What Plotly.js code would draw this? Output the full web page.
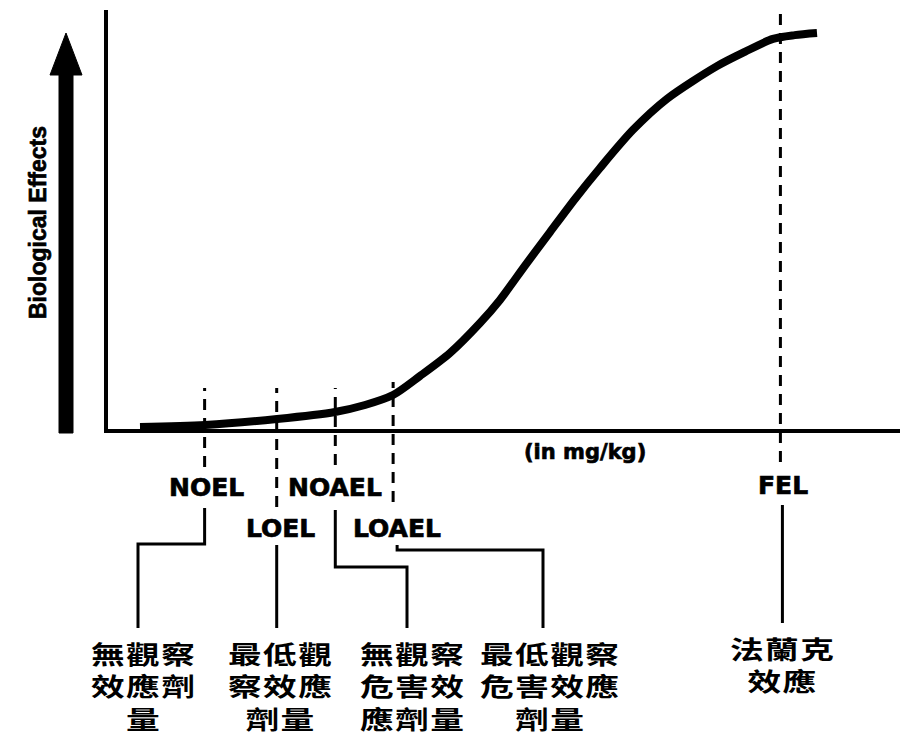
<!DOCTYPE html>
<html><head><meta charset="utf-8">
<script src="https://cdn.plot.ly/plotly-3.0.1.min.js"></script>
<style>
html,body{margin:0;padding:0;background:#fff;}
#chart{width:900px;height:735px;}
text.annotation-text[style*="CJK"]{transform-box:fill-box;transform-origin:center;transform:scaleX(1.35);letter-spacing:1px;}
text.annotation-text[style*="DejaVu"],text.annotation-text[style*="Liberation"]{stroke:#000;stroke-width:0.7px;}
</style></head><body><div id="chart"></div>
<script>
// ---- data ----
const doseCurve   = [4.04, 12.25, 21.34, 28.66, 32.45, 35.98, 39.39, 43.18, 46.97, 49.49, 52.65, 55.81, 58.96, 62.12, 66.29, 70.58, 76.89, 80.4, 83.96, 86.7, 89.52];
const effectCurve = [0.48, 0.95, 2.39, 4.06, 5.73, 8.11, 12.65, 18.14, 25.3, 30.8, 39.0, 47.0, 54.9, 62.3, 71.4, 78.8, 86.6, 90.0, 93.1, 94.0, 94.5];
const levelNames  = ['NOEL', 'LOEL', 'NOAEL', 'LOAEL', 'FEL'];
const levelDoses  = [12.2, 21.3, 28.7, 36.0, 84.9];
const levelZh = [
  ['無觀察', '效應劑', '量'],
  ['最低觀', '察效應', '劑量'],
  ['無觀察', '危害效', '應劑量'],
  ['最低觀察', '危害效應', '劑量'],
  ['法蘭克', '效應']
];
const yTitle = 'Biological Effects';
const xTitle = '(in mg/kg)';

// ---- layout geometry ----
const W = 900, H = 735, L = 108, T = 10, PB = 429;
const PW = W - L, PH = PB - T;
const xd = px => (px - L) / PW * 100;          // pixel -> x data
const dx = v => L + v / 100 * PW;               // x data -> pixel
const yp = py => (PB - py) / PH;                // pixel -> paper y
const xp = px => (px - L) / PW;                 // pixel -> paper x

const dashTop    = [388, 388, 388, 382, 13];
const dashBottom = [467, 507, 465, 502, 462];
const labelY     = [487, 528, 487, 528, 485];
const labelShift = [2, 4, 0, 4, 3];
const leadStartShift = [0, 0, 0, 4, 2];
const leadTop    = [508, 545, 510, 545, 505];
const leadElbow  = [544, null, 567, 550, null];
const leadEndX   = [138, null, 407, 543, null];
const leadBottom = [628, 628, 628, 628, 623];
const zhX = [143, 280, 412, 550, 782];
const zhY = [685, 685, 685, 685, 664];

const shapes = [];
const annotations = [];
const black = '#000';

levelDoses.forEach((d, i) => {
  shapes.push({type: 'line', xref: 'x', yref: 'paper', x0: d, x1: d,
    y0: yp(dashBottom[i]), y1: yp(dashTop[i]),
    line: {color: black, width: 3, dash: '11px,8px'}});
  const sx = xd(dx(d) + leadStartShift[i]);
  let path = `M${sx},${yp(leadTop[i])}`;
  if (leadElbow[i] !== null) {
    const ex = xd(leadEndX[i]);
    path += ` L${sx},${yp(leadElbow[i])} L${ex},${yp(leadElbow[i])} L${ex},${yp(leadBottom[i])}`;
  } else {
    path += ` L${sx},${yp(leadBottom[i])}`;
  }
  shapes.push({type: 'path', xref: 'x', yref: 'paper', path: path,
    line: {color: black, width: 3}});
  annotations.push({xref: 'x', yref: 'paper', x: d, y: yp(labelY[i]), xshift: labelShift[i],
    text: levelNames[i], showarrow: false, xanchor: 'center', yanchor: 'middle',
    font: {family: 'DejaVu Sans', size: 25, color: black, weight: 'bold'}});
  annotations.push({xref: 'paper', yref: 'paper', x: xp(zhX[i]), y: yp(zhY[i]),
    text: levelZh[i].join('<br>'), align: 'center', borderpad: 0,
    showarrow: false, xanchor: 'center', yanchor: 'middle',
    font: {family: 'Noto Sans CJK TC', size: 25, color: black, weight: 'bold'}});
});

// big arrow
const arrowPts = [[66, 33], [82, 75], [73, 75], [73, 433], [59, 433], [59, 75], [50, 75]];
shapes.push({type: 'path', xref: 'paper', yref: 'paper',
  path: 'M' + arrowPts.map(p => xp(p[0]) + ',' + yp(p[1])).join(' L') + ' Z',
  fillcolor: black, line: {color: black, width: 1}});

annotations.push({xref: 'paper', yref: 'paper', x: xp(38), y: yp(223), text: yTitle, textangle: -90,
  showarrow: false, xanchor: 'center', yanchor: 'middle',
  font: {family: 'Liberation Sans', size: 23, color: black, weight: 'bold'}});
annotations.push({xref: 'paper', yref: 'paper', x: xp(585), y: yp(452), text: xTitle,
  showarrow: false, xanchor: 'center', yanchor: 'middle',
  font: {family: 'DejaVu Sans', size: 21, color: black, weight: 'bold'}});

const trace = {x: doseCurve, y: effectCurve, type: 'scatter', mode: 'lines',
  line: {color: black, width: 8, shape: 'spline', smoothing: 0.8}, hoverinfo: 'skip'};

const axisBase = {range: [0, 100], showline: true, linewidth: 4, linecolor: black,
  showticklabels: false, ticks: '', showgrid: false, zeroline: false, fixedrange: true};

Plotly.newPlot('chart', [trace], {
  width: W, height: H,
  margin: {l: L, r: 0, t: T, b: H - PB},
  paper_bgcolor: '#fff', plot_bgcolor: '#fff',
  showlegend: false,
  xaxis: Object.assign({}, axisBase),
  yaxis: Object.assign({}, axisBase),
  shapes: shapes, annotations: annotations
}, {staticPlot: true});
</script></body></html>
